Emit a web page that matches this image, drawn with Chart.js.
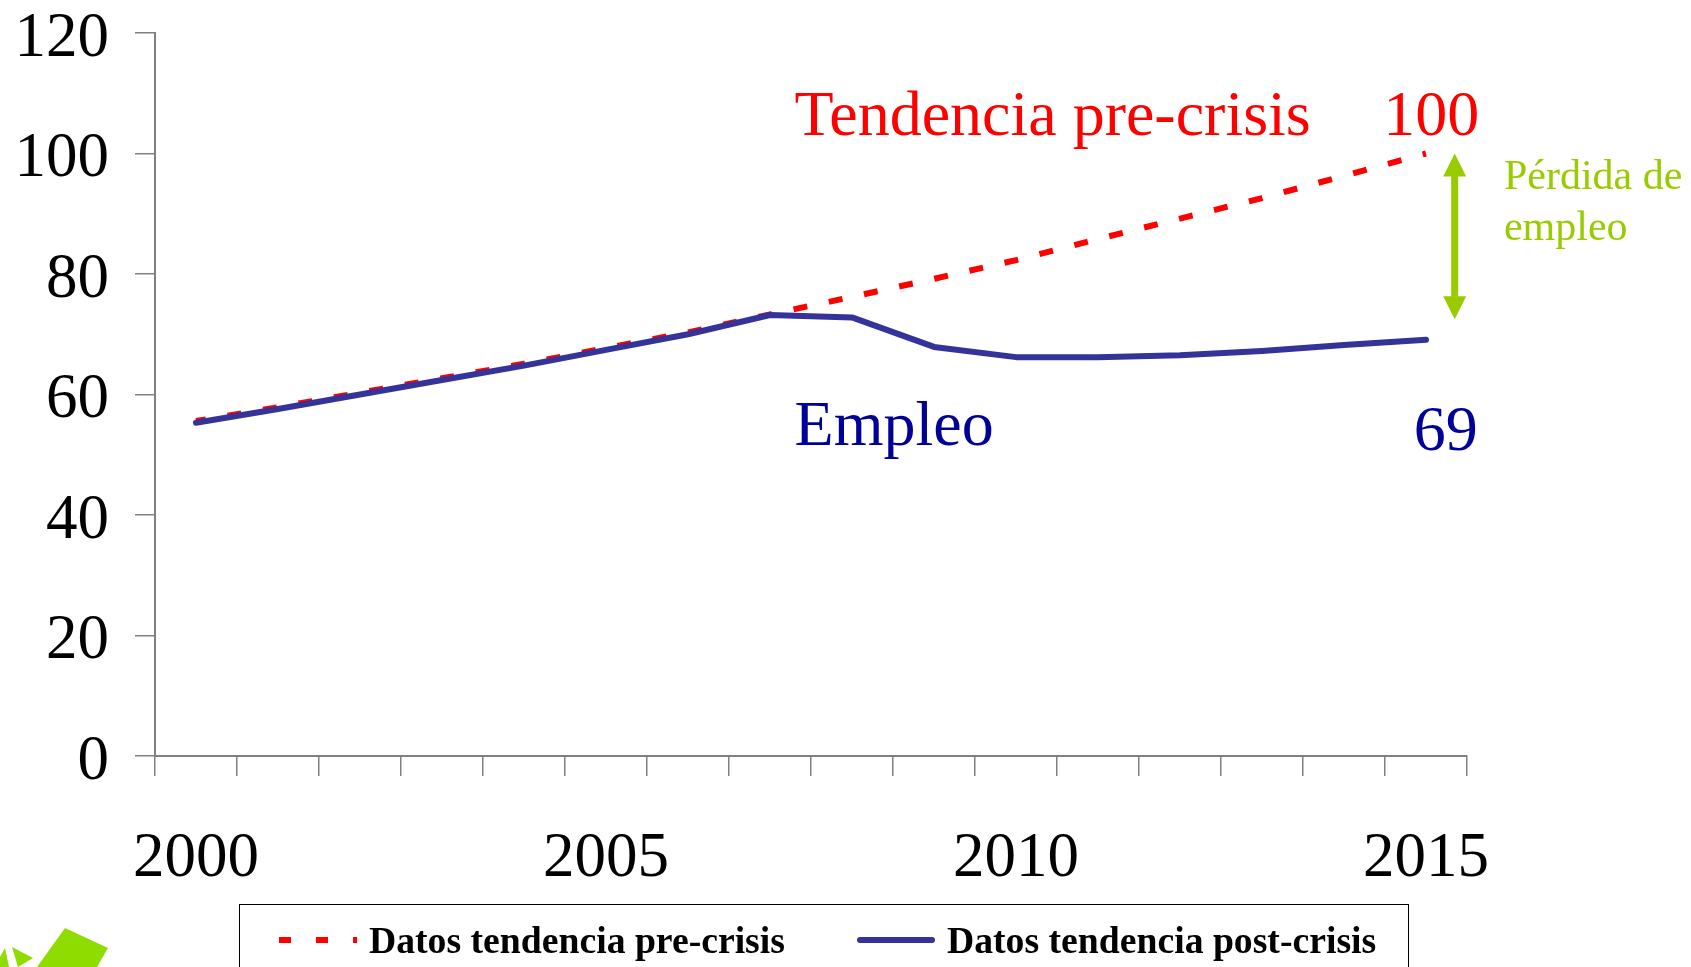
<!DOCTYPE html>
<html>
<head>
<meta charset="utf-8">
<script src="https://cdn.jsdelivr.net/npm/chart.js@4.4.1/dist/chart.umd.min.js"></script>
<style>
  html, body { margin: 0; padding: 0; background: #fff; overflow: hidden; }
  #wrap { position: relative; width: 1691px; height: 967px; }
  #grafico { position: absolute; left: 0; top: 0; }
  #leyenda {
    position: absolute; left: 239px; top: 904px; width: 1170px; height: 90px;
    border: 1.5px solid #000; box-sizing: border-box;
    font: bold 37.7px "Liberation Serif", "Times New Roman", serif; color: #000;
  }
  .item { position: absolute; top: 13px; display: flex; align-items: center; white-space: nowrap; }
  .muestra { width: 78px; height: 6px; margin-right: 12px; }
  #logo { position: absolute; left: 0; top: 900px; }
</style>
</head>
<body>
<div id="wrap">
  <canvas id="grafico" width="1691" height="967"></canvas>
  <div id="leyenda"></div>
  <svg id="logo" width="120" height="67">
    <polygon points="65,28 108,48 97,67 37,67" fill="#8fdc00"/>
    <polygon points="12,47 33,58 18,67" fill="#8fdc00"/>
    <polygon points="0,57 5,48 9,67 0,67" fill="#8fdc00"/>
  </svg>
</div>
<script>
// datos
const anios = ["2000","2001","2002","2003","2004","2005","2006","2007",
               "2008","2009","2010","2011","2012","2013","2014","2015"];
const tendenciaPre = [55.6, 57.9, 60.3, 62.7, 65.1, 67.7, 70.3, 73.3,
                      76.2, 79.2, 82.3, 85.8, 89.2, 92.6, 96.3, 100];
const tendenciaPost = [55.3, 57.6, 60.0, 62.4, 64.8, 67.4, 70.0, 73.2,
                       72.8, 67.9, 66.2, 66.2, 66.5, 67.2, 68.2, 69.1];
const nombres = ["Datos tendencia pre-crisis", "Datos tendencia post-crisis"];
const ticksY = [0, 20, 40, 60, 80, 100, 120];
const etiquetasX = ["2000", "2005", "2010", "2015"];

const ROJO = "#ff0000";
const AZUL = "#333399";
const AZUL_TEXTO = "#000099";
const VERDE = "#99cc00";
const SERIF = '"Liberation Serif", "Times New Roman", serif';

// textos sobre el grafico: posicion en (indice de año, valor)
const notas = [
  { texto: "Tendencia pre-crisis", x: 7.30, y: 103.1, color: ROJO, size: 64 },
  { texto: "100", x: 14.48, y: 103.1, color: ROJO, size: 64 },
  { texto: "Empleo", x: 7.30, y: 51.6, color: AZUL_TEXTO, size: 64 },
  { texto: "69", x: 14.85, y: 50.8, color: AZUL_TEXTO, size: 64 },
  { texto: "Pérdida de", x: 15.95, y: 94.1, color: VERDE, size: 42 },
  { texto: "empleo", x: 15.95, y: 85.6, color: VERDE, size: 42 }
];
const flecha = { x: 15.35, desde: 100, hasta: 72.5 };

const anotaciones = {
  id: "anotaciones",
  afterDatasetsDraw(chart) {
    const ctx = chart.ctx;
    const xs = chart.scales.x, ys = chart.scales.y;
    ctx.save();
    notas.forEach(n => {
      ctx.font = n.size + "px " + SERIF;
      ctx.fillStyle = n.color;
      ctx.textAlign = "left";
      ctx.textBaseline = "alphabetic";
      ctx.fillText(n.texto, xs.getPixelForValue(n.x), ys.getPixelForValue(n.y));
    });
    // flecha doble de perdida de empleo
    const fx = xs.getPixelForValue(flecha.x);
    const y1 = ys.getPixelForValue(flecha.desde);
    const y2 = ys.getPixelForValue(flecha.hasta);
    const cabeza = 23, media = 11.5;
    ctx.fillStyle = VERDE;
    ctx.fillRect(fx - 3.5, y1 + cabeza - 1, 7, (y2 - y1) - 2 * cabeza + 2);
    ctx.beginPath();
    ctx.moveTo(fx, y1); ctx.lineTo(fx + media, y1 + cabeza); ctx.lineTo(fx - media, y1 + cabeza);
    ctx.closePath(); ctx.fill();
    ctx.beginPath();
    ctx.moveTo(fx, y2); ctx.lineTo(fx + media, y2 - cabeza); ctx.lineTo(fx - media, y2 - cabeza);
    ctx.closePath(); ctx.fill();
    ctx.restore();
  }
};

const ctx = document.getElementById("grafico").getContext("2d");
const grafico = new Chart(ctx, {
  type: "line",
  data: {
    labels: anios,
    datasets: [
      { label: nombres[0], data: tendenciaPre, borderColor: ROJO, borderWidth: 6,
        borderDash: [14, 22], borderDashOffset: 4, borderCapStyle: "butt",
        pointRadius: 0, tension: 0, order: 1 },
      { label: nombres[1], data: tendenciaPost, borderColor: AZUL, borderWidth: 6,
        borderCapStyle: "round", borderJoinStyle: "round", pointRadius: 0, tension: 0, order: 0 }
    ]
  },
  options: {
    responsive: false,
    animation: false,
    layout: { padding: { top: 33, right: 224, left: 0, bottom: 0 } },
    plugins: { legend: { display: false }, tooltip: { enabled: false } },
    scales: {
      x: {
        offset: true,
        grid: { offset: true, drawOnChartArea: false, color: "#808080", lineWidth: 1.5, tickLength: 20 },
        border: { color: "#808080", width: 2 },
        ticks: {
          autoSkip: false, maxRotation: 0, padding: 46, color: "#000",
          font: { family: SERIF, size: 63, lineHeight: 1.2 },
          callback: function (v) {
            const l = this.getLabelForValue(v);
            return etiquetasX.includes(l) ? l : "";
          }
        },
        afterFit(s) { s.height = 211; s.paddingLeft = 0; s.paddingRight = 0; }
      },
      y: {
        min: 0, max: 120,
        afterBuildTicks(s) { s.ticks = ticksY.map(v => ({ value: v })); },
        grid: { drawOnChartArea: false, color: "#808080", lineWidth: 1.5, tickLength: 20 },
        border: { color: "#808080", width: 2 },
        ticks: { padding: 26, labelOffset: 6, color: "#000", font: { family: SERIF, size: 63, lineHeight: 1 } },
        afterFit(s) { s.width = 155; s.paddingTop = 0; s.paddingBottom = 0; }
      }
    }
  },
  plugins: [anotaciones]
});

// leyenda en html
const leyenda = document.getElementById("leyenda");
const posiciones = [39, 617];
grafico.data.datasets.forEach((ds, i) => {
  const item = document.createElement("div");
  item.className = "item";
  item.style.left = posiciones[i] + "px";
  const muestra = document.createElement("div");
  muestra.className = "muestra";
  if (ds.borderDash) {
    muestra.style.background = `repeating-linear-gradient(90deg, ${ds.borderColor} 0 12px, transparent 12px 37px)`;
  } else {
    muestra.style.background = ds.borderColor;
    muestra.style.borderRadius = "3px";
  }
  const texto = document.createElement("span");
  texto.textContent = ds.label;
  item.appendChild(muestra);
  item.appendChild(texto);
  leyenda.appendChild(item);
});
</script>
</body>
</html>
